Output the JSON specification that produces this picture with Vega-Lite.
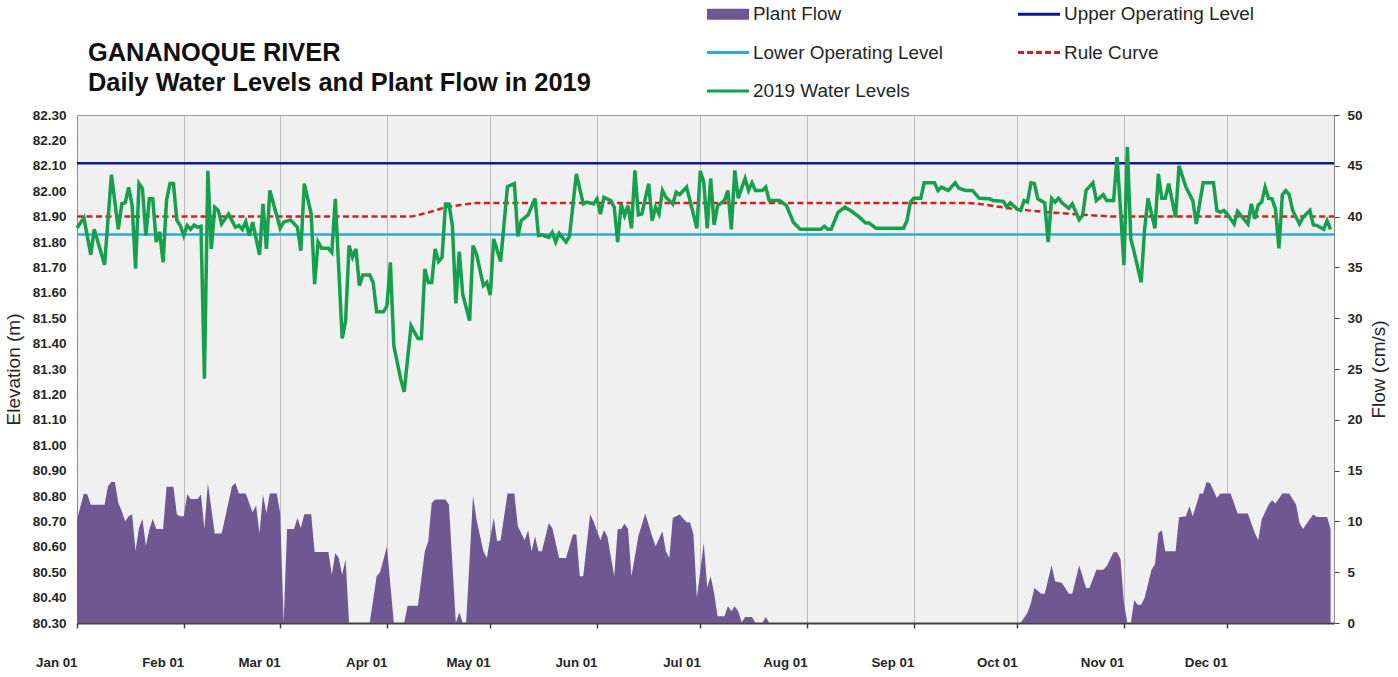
{
"$schema": "https://vega.github.io/schema/vega-lite/v6.json",
"width": 1257, "height": 508,
"autosize": "none",
"padding": {"left": 77, "top": 115, "right": 64, "bottom": 54},
"background": "white",
"config": {
  "view": {"fill": "#f0f0f0", "stroke": "#9c9c9c", "strokeWidth": 1},
  "font": "Liberation Sans",
  "axis": {"labelFont": "Liberation Sans", "titleFont": "Liberation Sans", "gridColor": "#bcbcbc", "gridWidth": 1, "gridOpacity": 1, "labelColor": "#262626", "titleColor": "#262626"},
  "axisX": {"grid": true, "domainColor": "#404040", "domainWidth": 2, "tickColor": "#404040", "tickSize": 5, "tickWidth": 1.5, "labelFontSize": 13.3, "labelFontWeight": "bold", "labelAlign": "right", "labelBaseline": "top", "labelPadding": 27, "labelFlush": false, "labelOverlap": false},
  "axisLeft": {"grid": true, "domainColor": "#8a8a8a", "ticks": false, "tickSize": 0, "labelPadding": 11, "labelFontSize": 13.5, "labelFontWeight": "bold", "titleFontSize": 19, "titleFontWeight": "normal", "titlePadding": 9},
  "axisRight": {"grid": false, "domainColor": "#8a8a8a", "tickColor": "#404040", "tickSize": 5, "labelPadding": 8, "labelFontSize": 13.5, "labelFontWeight": "bold", "titleFontSize": 19, "titleFontWeight": "normal", "titleAngle": 270, "titleBaseline": "top", "titlePadding": 7}
},
"title": {"text": ["GANANOQUE RIVER", "Daily Water Levels and Plant Flow in 2019"], "anchor": "start", "frame": "group", "orient": "top", "baseline": "alphabetic", "offset": -125, "dx": 11, "font": "Liberation Sans", "fontSize": 25.4, "fontWeight": "bold", "color": "#111111", "lineHeight": 30},
"datasets": {
"flow": [
{"date":"2019-01-01","flow":10.2},{"date":"2019-01-03","flow":12.74},{"date":"2019-01-04","flow":12.64},{"date":"2019-01-05","flow":11.65},{"date":"2019-01-09","flow":11.65},{"date":"2019-01-10","flow":13.46},{"date":"2019-01-11","flow":13.89},{"date":"2019-01-12","flow":13.89},{"date":"2019-01-13","flow":11.82},{"date":"2019-01-14","flow":11.0},{"date":"2019-01-15","flow":10.0},{"date":"2019-01-16","flow":10.5},{"date":"2019-01-17","flow":10.7},{"date":"2019-01-18","flow":7.12},{"date":"2019-01-19","flow":9.36},{"date":"2019-01-20","flow":10.24},{"date":"2019-01-21","flow":7.6},{"date":"2019-01-22","flow":9.2},{"date":"2019-01-23","flow":10.24},{"date":"2019-01-24","flow":9.26},{"date":"2019-01-26","flow":9.26},{"date":"2019-01-27","flow":13.4},{"date":"2019-01-29","flow":13.4},{"date":"2019-01-30","flow":10.67},{"date":"2019-01-31","flow":10.5},
{"date":"2019-02-01","flow":10.5},{"date":"2019-02-02","flow":12.7},{"date":"2019-02-03","flow":12.2},{"date":"2019-02-05","flow":12.2},{"date":"2019-02-06","flow":12.64},{"date":"2019-02-07","flow":9.26},{"date":"2019-02-08","flow":13.79},{"date":"2019-02-10","flow":8.8},{"date":"2019-02-12","flow":8.8},{"date":"2019-02-13","flow":10.34},{"date":"2019-02-15","flow":13.46},{"date":"2019-02-16","flow":13.79},{"date":"2019-02-17","flow":12.74},{"date":"2019-02-19","flow":12.74},{"date":"2019-02-21","flow":10.9},{"date":"2019-02-22","flow":11.56},{"date":"2019-02-23","flow":8.8},{"date":"2019-02-24","flow":12.64},{"date":"2019-02-25","flow":10.83},{"date":"2019-02-26","flow":12.74},{"date":"2019-02-28","flow":12.74},
{"date":"2019-03-01","flow":10.83},{"date":"2019-03-02","flow":0},{"date":"2019-03-03","flow":9.26},{"date":"2019-03-05","flow":9.26},{"date":"2019-03-06","flow":10.34},{"date":"2019-03-07","flow":9.36},{"date":"2019-03-08","flow":10.7},{"date":"2019-03-10","flow":10.7},{"date":"2019-03-11","flow":7.0},{"date":"2019-03-15","flow":7.0},{"date":"2019-03-16","flow":4.76},{"date":"2019-03-17","flow":6.9},{"date":"2019-03-18","flow":6.4},{"date":"2019-03-19","flow":4.76},{"date":"2019-03-20","flow":6.24},{"date":"2019-03-21","flow":0},{"date":"2019-03-27","flow":0},{"date":"2019-03-29","flow":4.6},{"date":"2019-03-30","flow":5.0},
{"date":"2019-04-01","flow":7.5},{"date":"2019-04-03","flow":0},{"date":"2019-04-06","flow":0},{"date":"2019-04-07","flow":1.7},{"date":"2019-04-10","flow":1.7},{"date":"2019-04-12","flow":7.06},{"date":"2019-04-13","flow":8.04},{"date":"2019-04-14","flow":11.82},{"date":"2019-04-15","flow":12.15},{"date":"2019-04-18","flow":12.15},{"date":"2019-04-19","flow":11.65},{"date":"2019-04-21","flow":0},{"date":"2019-04-22","flow":1.05},{"date":"2019-04-23","flow":0},{"date":"2019-04-24","flow":0},{"date":"2019-04-26","flow":12.54},{"date":"2019-04-27","flow":10.18},{"date":"2019-04-29","flow":7.06},{"date":"2019-04-30","flow":6.4},
{"date":"2019-05-02","flow":10.34},{"date":"2019-05-03","flow":8.04},{"date":"2019-05-04","flow":8.14},{"date":"2019-05-06","flow":12.74},{"date":"2019-05-08","flow":12.74},{"date":"2019-05-09","flow":9.52},{"date":"2019-05-11","flow":8.14},{"date":"2019-05-12","flow":9.13},{"date":"2019-05-13","flow":7.06},{"date":"2019-05-14","flow":8.54},{"date":"2019-05-15","flow":7.06},{"date":"2019-05-16","flow":7.06},{"date":"2019-05-18","flow":9.85},{"date":"2019-05-19","flow":9.36},{"date":"2019-05-21","flow":6.4},{"date":"2019-05-23","flow":6.4},{"date":"2019-05-25","flow":8.7},{"date":"2019-05-26","flow":8.7},{"date":"2019-05-27","flow":4.6},{"date":"2019-05-28","flow":4.6},{"date":"2019-05-30","flow":10.7},{"date":"2019-05-31","flow":10.0},
{"date":"2019-06-02","flow":8.14},{"date":"2019-06-03","flow":9.13},{"date":"2019-06-04","flow":8.54},{"date":"2019-06-06","flow":4.6},{"date":"2019-06-07","flow":9.26},{"date":"2019-06-08","flow":9.26},{"date":"2019-06-09","flow":9.78},{"date":"2019-06-10","flow":9.26},{"date":"2019-06-11","flow":4.6},{"date":"2019-06-13","flow":8.54},{"date":"2019-06-15","flow":10.77},{"date":"2019-06-17","flow":8.54},{"date":"2019-06-18","flow":7.55},{"date":"2019-06-20","flow":9.03},{"date":"2019-06-21","flow":7.06},{"date":"2019-06-22","flow":6.4},{"date":"2019-06-23","flow":10.34},{"date":"2019-06-25","flow":10.67},{"date":"2019-06-27","flow":9.91},{"date":"2019-06-28","flow":9.91},{"date":"2019-06-29","flow":8.7},{"date":"2019-06-30","flow":2.46},
{"date":"2019-07-02","flow":7.88},{"date":"2019-07-03","flow":3.5},{"date":"2019-07-04","flow":4.6},{"date":"2019-07-05","flow":2.95},{"date":"2019-07-06","flow":0.66},{"date":"2019-07-08","flow":0.66},{"date":"2019-07-09","flow":1.64},{"date":"2019-07-10","flow":1.15},{"date":"2019-07-11","flow":1.64},{"date":"2019-07-12","flow":1.15},{"date":"2019-07-13","flow":0.07},{"date":"2019-07-14","flow":0.6},{"date":"2019-07-16","flow":0.6},{"date":"2019-07-17","flow":0},{"date":"2019-07-19","flow":0},{"date":"2019-07-20","flow":0.6},{"date":"2019-07-21","flow":0},
{"date":"2019-10-02","flow":0},{"date":"2019-10-04","flow":1.0},{"date":"2019-10-05","flow":1.97},{"date":"2019-10-06","flow":3.45},{"date":"2019-10-08","flow":2.89},{"date":"2019-10-09","flow":2.89},{"date":"2019-10-11","flow":5.68},{"date":"2019-10-12","flow":4.1},{"date":"2019-10-14","flow":3.94},{"date":"2019-10-16","flow":2.89},{"date":"2019-10-17","flow":2.89},{"date":"2019-10-19","flow":5.68},{"date":"2019-10-21","flow":3.45},{"date":"2019-10-22","flow":3.45},{"date":"2019-10-24","flow":5.25},{"date":"2019-10-26","flow":5.25},{"date":"2019-10-27","flow":5.58},{"date":"2019-10-29","flow":6.96},{"date":"2019-10-30","flow":6.96},{"date":"2019-10-31","flow":6.3},
{"date":"2019-11-01","flow":1.97},{"date":"2019-11-02","flow":0},{"date":"2019-11-03","flow":0},{"date":"2019-11-04","flow":2.23},{"date":"2019-11-05","flow":1.8},{"date":"2019-11-06","flow":1.8},{"date":"2019-11-07","flow":2.46},{"date":"2019-11-09","flow":5.25},{"date":"2019-11-10","flow":5.75},{"date":"2019-11-11","flow":8.86},{"date":"2019-11-12","flow":9.13},{"date":"2019-11-13","flow":7.06},{"date":"2019-11-16","flow":7.06},{"date":"2019-11-17","flow":10.4},{"date":"2019-11-19","flow":10.5},{"date":"2019-11-20","flow":11.5},{"date":"2019-11-21","flow":10.5},{"date":"2019-11-23","flow":12.74},{"date":"2019-11-24","flow":12.74},{"date":"2019-11-25","flow":13.89},{"date":"2019-11-26","flow":13.79},{"date":"2019-11-28","flow":12.3},{"date":"2019-11-29","flow":12.74},
{"date":"2019-12-02","flow":12.74},{"date":"2019-12-04","flow":10.77},{"date":"2019-12-07","flow":10.77},{"date":"2019-12-09","flow":8.86},{"date":"2019-12-10","flow":8.14},{"date":"2019-12-11","flow":10.18},{"date":"2019-12-13","flow":11.65},{"date":"2019-12-14","flow":12.08},{"date":"2019-12-15","flow":11.75},{"date":"2019-12-17","flow":12.74},{"date":"2019-12-19","flow":12.74},{"date":"2019-12-21","flow":11.65},{"date":"2019-12-22","flow":9.85},{"date":"2019-12-23","flow":9.26},{"date":"2019-12-25","flow":10.24},{"date":"2019-12-26","flow":10.67},{"date":"2019-12-27","flow":10.44},{"date":"2019-12-30","flow":10.44},{"date":"2019-12-31","flow":9.26}
],
"refs": [
{"date":"2019-01-01","series":"Upper Operating Level","value":82.11},{"date":"2020-01-01","series":"Upper Operating Level","value":82.11},
{"date":"2019-01-01","series":"Lower Operating Level","value":81.83},{"date":"2020-01-01","series":"Lower Operating Level","value":81.83},
{"date":"2019-01-01","series":"Rule Curve","value":81.90},{"date":"2019-04-08","series":"Rule Curve","value":81.90},{"date":"2019-04-11","series":"Rule Curve","value":81.909},{"date":"2019-04-15","series":"Rule Curve","value":81.924},{"date":"2019-04-18","series":"Rule Curve","value":81.937},{"date":"2019-04-23","series":"Rule Curve","value":81.947},{"date":"2019-04-27","series":"Rule Curve","value":81.954},{"date":"2019-09-16","series":"Rule Curve","value":81.954},{"date":"2019-09-20","series":"Rule Curve","value":81.95},{"date":"2019-09-30","series":"Rule Curve","value":81.93},{"date":"2019-10-10","series":"Rule Curve","value":81.917},{"date":"2019-10-19","series":"Rule Curve","value":81.908},{"date":"2019-10-29","series":"Rule Curve","value":81.90},{"date":"2020-01-01","series":"Rule Curve","value":81.90}
],
"water": [
{"date":"2019-01-01","value":81.855},{"date":"2019-01-03","value":81.895},{"date":"2019-01-05","value":81.75},{"date":"2019-01-06","value":81.85},{"date":"2019-01-09","value":81.71},{"date":"2019-01-11","value":82.065},{"date":"2019-01-13","value":81.85},{"date":"2019-01-14","value":81.95},{"date":"2019-01-15","value":81.955},{"date":"2019-01-16","value":82.015},{"date":"2019-01-17","value":81.945},{"date":"2019-01-18","value":81.695},{"date":"2019-01-19","value":82.03},{"date":"2019-01-20","value":82.01},{"date":"2019-01-21","value":81.825},{"date":"2019-01-22","value":81.97},{"date":"2019-01-23","value":81.97},{"date":"2019-01-24","value":81.80},{"date":"2019-01-25","value":81.84},{"date":"2019-01-26","value":81.72},{"date":"2019-01-27","value":81.965},{"date":"2019-01-28","value":82.03},{"date":"2019-01-29","value":82.03},{"date":"2019-01-30","value":81.885},{"date":"2019-01-31","value":81.865},
{"date":"2019-02-01","value":81.825},{"date":"2019-02-02","value":81.865},{"date":"2019-02-03","value":81.85},{"date":"2019-02-04","value":81.867},{"date":"2019-02-05","value":81.858},{"date":"2019-02-06","value":81.862},{"date":"2019-02-07","value":81.262},{"date":"2019-02-08","value":82.08},{"date":"2019-02-09","value":81.773},{"date":"2019-02-10","value":81.937},{"date":"2019-02-11","value":81.924},{"date":"2019-02-12","value":81.871},{"date":"2019-02-14","value":81.91},{"date":"2019-02-15","value":81.884},{"date":"2019-02-16","value":81.858},{"date":"2019-02-17","value":81.865},{"date":"2019-02-18","value":81.85},{"date":"2019-02-19","value":81.88},{"date":"2019-02-20","value":81.825},{"date":"2019-02-21","value":81.878},{"date":"2019-02-23","value":81.749},{"date":"2019-02-24","value":81.95},{"date":"2019-02-25","value":81.773},{"date":"2019-02-26","value":82.003},{"date":"2019-02-28","value":81.904},
{"date":"2019-03-01","value":81.854},{"date":"2019-03-02","value":81.878},{"date":"2019-03-04","value":81.887},{"date":"2019-03-06","value":81.858},{"date":"2019-03-07","value":81.766},{"date":"2019-03-08","value":82.03},{"date":"2019-03-10","value":81.91},{"date":"2019-03-11","value":81.634},{"date":"2019-03-12","value":81.80},{"date":"2019-03-13","value":81.775},{"date":"2019-03-15","value":81.775},{"date":"2019-03-16","value":81.759},{"date":"2019-03-17","value":81.97},{"date":"2019-03-19","value":81.42},{"date":"2019-03-20","value":81.49},{"date":"2019-03-21","value":81.786},{"date":"2019-03-22","value":81.74},{"date":"2019-03-23","value":81.773},{"date":"2019-03-24","value":81.628},{"date":"2019-03-25","value":81.67},{"date":"2019-03-27","value":81.67},{"date":"2019-03-28","value":81.641},{"date":"2019-03-29","value":81.525},{"date":"2019-03-31","value":81.525},
{"date":"2019-04-01","value":81.549},{"date":"2019-04-02","value":81.72},{"date":"2019-04-03","value":81.391},{"date":"2019-04-05","value":81.26},{"date":"2019-04-06","value":81.21},{"date":"2019-04-08","value":81.47},{"date":"2019-04-10","value":81.42},{"date":"2019-04-11","value":81.42},{"date":"2019-04-12","value":81.694},{"date":"2019-04-13","value":81.641},{"date":"2019-04-14","value":81.641},{"date":"2019-04-15","value":81.773},{"date":"2019-04-16","value":81.723},{"date":"2019-04-17","value":81.74},{"date":"2019-04-18","value":81.95},{"date":"2019-04-19","value":81.95},{"date":"2019-04-20","value":81.865},{"date":"2019-04-21","value":81.558},{"date":"2019-04-22","value":81.762},{"date":"2019-04-23","value":81.595},{"date":"2019-04-25","value":81.49},{"date":"2019-04-26","value":81.786},{"date":"2019-04-27","value":81.753},{"date":"2019-04-29","value":81.628},{"date":"2019-04-30","value":81.641},
{"date":"2019-05-01","value":81.591},{"date":"2019-05-02","value":81.812},{"date":"2019-05-04","value":81.723},{"date":"2019-05-06","value":82.018},{"date":"2019-05-08","value":82.03},{"date":"2019-05-09","value":81.822},{"date":"2019-05-10","value":81.884},{"date":"2019-05-12","value":81.907},{"date":"2019-05-14","value":81.972},{"date":"2019-05-15","value":81.825},{"date":"2019-05-16","value":81.828},{"date":"2019-05-18","value":81.818},{"date":"2019-05-19","value":81.838},{"date":"2019-05-20","value":81.80},{"date":"2019-05-21","value":81.834},{"date":"2019-05-23","value":81.80},{"date":"2019-05-24","value":81.822},{"date":"2019-05-26","value":82.068},{"date":"2019-05-28","value":81.95},{"date":"2019-05-29","value":81.957},{"date":"2019-05-31","value":81.95},
{"date":"2019-06-01","value":81.97},{"date":"2019-06-02","value":81.91},{"date":"2019-06-03","value":81.976},{"date":"2019-06-05","value":81.963},{"date":"2019-06-06","value":81.937},{"date":"2019-06-07","value":81.80},{"date":"2019-06-08","value":81.95},{"date":"2019-06-09","value":81.904},{"date":"2019-06-10","value":81.943},{"date":"2019-06-11","value":81.854},{"date":"2019-06-12","value":82.082},{"date":"2019-06-13","value":81.907},{"date":"2019-06-14","value":81.91},{"date":"2019-06-16","value":82.03},{"date":"2019-06-17","value":81.884},{"date":"2019-06-18","value":81.937},{"date":"2019-06-19","value":81.91},{"date":"2019-06-20","value":82.003},{"date":"2019-06-21","value":81.976},{"date":"2019-06-23","value":81.95},{"date":"2019-06-24","value":81.996},{"date":"2019-06-25","value":81.986},{"date":"2019-06-27","value":82.016},{"date":"2019-06-28","value":81.963},{"date":"2019-06-30","value":81.854},
{"date":"2019-07-01","value":82.08},{"date":"2019-07-02","value":82.035},{"date":"2019-07-03","value":81.854},{"date":"2019-07-04","value":82.05},{"date":"2019-07-05","value":81.867},{"date":"2019-07-06","value":81.943},{"date":"2019-07-08","value":81.963},{"date":"2019-07-09","value":82.003},{"date":"2019-07-10","value":81.85},{"date":"2019-07-11","value":82.082},{"date":"2019-07-12","value":81.972},{"date":"2019-07-13","value":82.012},{"date":"2019-07-14","value":82.05},{"date":"2019-07-15","value":82.003},{"date":"2019-07-16","value":82.033},{"date":"2019-07-17","value":82.003},{"date":"2019-07-19","value":82.003},{"date":"2019-07-20","value":82.016},{"date":"2019-07-21","value":81.963},{"date":"2019-07-24","value":81.963},{"date":"2019-07-26","value":81.943},{"date":"2019-07-28","value":81.878},{"date":"2019-07-30","value":81.85},
{"date":"2019-08-05","value":81.85},{"date":"2019-08-06","value":81.862},{"date":"2019-08-07","value":81.85},{"date":"2019-08-08","value":81.85},{"date":"2019-08-10","value":81.917},{"date":"2019-08-12","value":81.937},{"date":"2019-08-14","value":81.92},{"date":"2019-08-16","value":81.90},{"date":"2019-08-18","value":81.875},{"date":"2019-08-19","value":81.875},{"date":"2019-08-21","value":81.854},{"date":"2019-08-29","value":81.854},{"date":"2019-08-30","value":81.884},{"date":"2019-08-31","value":81.957},
{"date":"2019-09-01","value":81.972},{"date":"2019-09-03","value":81.972},{"date":"2019-09-04","value":82.033},{"date":"2019-09-07","value":82.033},{"date":"2019-09-08","value":82.003},{"date":"2019-09-09","value":82.016},{"date":"2019-09-11","value":82.003},{"date":"2019-09-13","value":82.033},{"date":"2019-09-14","value":82.012},{"date":"2019-09-16","value":82.003},{"date":"2019-09-18","value":82.003},{"date":"2019-09-20","value":81.972},{"date":"2019-09-23","value":81.97},{"date":"2019-09-24","value":81.963},{"date":"2019-09-27","value":81.96},{"date":"2019-09-28","value":81.937},{"date":"2019-09-29","value":81.954},
{"date":"2019-10-01","value":81.93},{"date":"2019-10-02","value":81.924},{"date":"2019-10-03","value":81.963},{"date":"2019-10-04","value":81.957},{"date":"2019-10-05","value":82.033},{"date":"2019-10-06","value":82.03},{"date":"2019-10-07","value":81.97},{"date":"2019-10-09","value":81.954},{"date":"2019-10-10","value":81.80},{"date":"2019-10-11","value":81.972},{"date":"2019-10-12","value":81.957},{"date":"2019-10-13","value":81.972},{"date":"2019-10-14","value":81.954},{"date":"2019-10-16","value":81.933},{"date":"2019-10-17","value":81.95},{"date":"2019-10-19","value":81.888},{"date":"2019-10-20","value":81.904},{"date":"2019-10-21","value":82.003},{"date":"2019-10-23","value":82.033},{"date":"2019-10-24","value":81.963},{"date":"2019-10-26","value":81.986},{"date":"2019-10-27","value":81.963},{"date":"2019-10-29","value":81.963},{"date":"2019-10-30","value":82.134},{"date":"2019-10-31","value":81.93},
{"date":"2019-11-01","value":81.709},{"date":"2019-11-02","value":82.174},{"date":"2019-11-03","value":81.812},{"date":"2019-11-04","value":81.759},{"date":"2019-11-06","value":81.641},{"date":"2019-11-07","value":81.85},{"date":"2019-11-08","value":81.972},{"date":"2019-11-10","value":81.854},{"date":"2019-11-11","value":82.068},{"date":"2019-11-12","value":81.972},{"date":"2019-11-13","value":81.972},{"date":"2019-11-14","value":82.03},{"date":"2019-11-16","value":81.897},{"date":"2019-11-17","value":82.10},{"date":"2019-11-19","value":82.016},{"date":"2019-11-21","value":81.963},{"date":"2019-11-22","value":81.871},{"date":"2019-11-24","value":82.033},{"date":"2019-11-27","value":82.033},{"date":"2019-11-28","value":81.924},{"date":"2019-11-29","value":81.917},{"date":"2019-11-30","value":81.924},
{"date":"2019-12-01","value":81.91},{"date":"2019-12-03","value":81.871},{"date":"2019-12-04","value":81.92},{"date":"2019-12-05","value":81.904},{"date":"2019-12-07","value":81.871},{"date":"2019-12-08","value":81.95},{"date":"2019-12-09","value":81.891},{"date":"2019-12-10","value":81.946},{"date":"2019-12-11","value":81.957},{"date":"2019-12-12","value":82.016},{"date":"2019-12-13","value":81.972},{"date":"2019-12-14","value":81.97},{"date":"2019-12-15","value":81.93},{"date":"2019-12-16","value":81.775},{"date":"2019-12-17","value":81.986},{"date":"2019-12-18","value":82.003},{"date":"2019-12-19","value":81.986},{"date":"2019-12-20","value":81.924},{"date":"2019-12-22","value":81.871},{"date":"2019-12-23","value":81.897},{"date":"2019-12-25","value":81.924},{"date":"2019-12-26","value":81.867},{"date":"2019-12-27","value":81.865},{"date":"2019-12-29","value":81.85},{"date":"2019-12-30","value":81.884},{"date":"2019-12-31","value":81.85}
]
},
"layer": [
{
  "data": {"name": "flow"},
  "mark": {"type": "area", "interpolate": "linear"},
  "encoding": {
    "x": {"field": "date", "type": "temporal", "scale": {"type": "utc", "domain": [1546300800000, 1577836800000]}, "axis": {"title": null, "format": "%b %d", "values": [1546300800000,1548979200000,1551398400000,1554076800000,1556668800000,1559347200000,1561939200000,1564617600000,1567296000000,1569888000000,1572566400000,1575158400000]}},
    "y": {"field": "flow", "type": "quantitative", "scale": {"domain": [0, 50], "nice": false, "zero": true}, "axis": {"orient": "right", "title": "Flow (cm/s)", "values": [0,5,10,15,20,25,30,35,40,45,50], "format": "d", "grid": false}},
    "color": {"datum": "Plant Flow", "type": "nominal", "title": null,
      "scale": {"domain": ["Plant Flow", "Lower Operating Level", "2019 Water Levels", "Upper Operating Level", "Rule Curve"], "range": ["#6f5792", "#2aa9dc", "#16a04e", "#0a198c", "#d41f1f"]},
      "legend": {"title": null, "orient": "none", "legendX": 628.5, "legendY": -123.5, "columns": 2, "symbolType": "stroke", "symbolSize": 1764, "symbolStrokeWidth": 3, "labelFont": "Liberation Sans", "labelFontSize": 18.9, "labelColor": "#262626", "labelOffset": 2.5, "labelLimit": 400, "columnPadding": 68, "rowPadding": 5.5,
        "encode": {"symbols": {"update": {
          "shape": {"signal": "datum.value === 'Plant Flow' ? 'M-0.93,-0.19H0.93V0.19H-0.93Z' : 'stroke'"},
          "stroke": {"scale": "color", "field": "value"},
          "fill": {"signal": "datum.value === 'Plant Flow' ? scale('color', datum.value) : 'transparent'"},
          "strokeWidth": {"value": 3},
          "strokeDash": {"signal": "datum.value === 'Rule Curve' ? [6, 3] : null"}}}}}
    }
  }
},
{
  "layer": [
    {
      "data": {"name": "refs"},
      "mark": {"type": "line", "strokeWidth": 2.5},
      "encoding": {
        "x": {"field": "date", "type": "temporal", "scale": {"type": "utc", "domain": [1546300800000, 1577836800000]}, "axis": {"title": null, "format": "%b %d", "values": [1546300800000,1548979200000,1551398400000,1554076800000,1556668800000,1559347200000,1561939200000,1564617600000,1567296000000,1569888000000,1572566400000,1575158400000]}},
        "y": {"field": "value", "type": "quantitative", "scale": {"domain": [80.3, 82.3], "nice": false, "zero": false}, "axis": {"orient": "left", "title": "Elevation (m)", "format": ".2f", "values": [80.3,80.4,80.5,80.6,80.7,80.8,80.9,81.0,81.1,81.2,81.3,81.4,81.5,81.6,81.7,81.8,81.9,82.0,82.1,82.2,82.3]}},
        "color": {"field": "series", "type": "nominal", "title": null},
        "strokeDash": {"field": "series", "type": "nominal", "scale": {"domain": ["Upper Operating Level", "Lower Operating Level", "Rule Curve"], "range": [[1, 0], [1, 0], [6, 3.5]]}, "legend": null}
      }
    },
    {
      "data": {"name": "water"},
      "mark": {"type": "line", "strokeWidth": 3.5},
      "encoding": {
        "x": {"field": "date", "type": "temporal", "scale": {"type": "utc", "domain": [1546300800000, 1577836800000]}, "axis": {"title": null, "format": "%b %d", "values": [1546300800000,1548979200000,1551398400000,1554076800000,1556668800000,1559347200000,1561939200000,1564617600000,1567296000000,1569888000000,1572566400000,1575158400000]}},
        "y": {"field": "value", "type": "quantitative", "scale": {"domain": [80.3, 82.3], "nice": false, "zero": false}, "axis": {"orient": "left", "title": "Elevation (m)", "format": ".2f", "values": [80.3,80.4,80.5,80.6,80.7,80.8,80.9,81.0,81.1,81.2,81.3,81.4,81.5,81.6,81.7,81.8,81.9,82.0,82.1,82.2,82.3]}},
        "color": {"datum": "2019 Water Levels", "type": "nominal", "title": null}
      }
    }
  ]
}
],
"resolve": {"scale": {"y": "independent"}, "axis": {"y": "independent"}}
}
